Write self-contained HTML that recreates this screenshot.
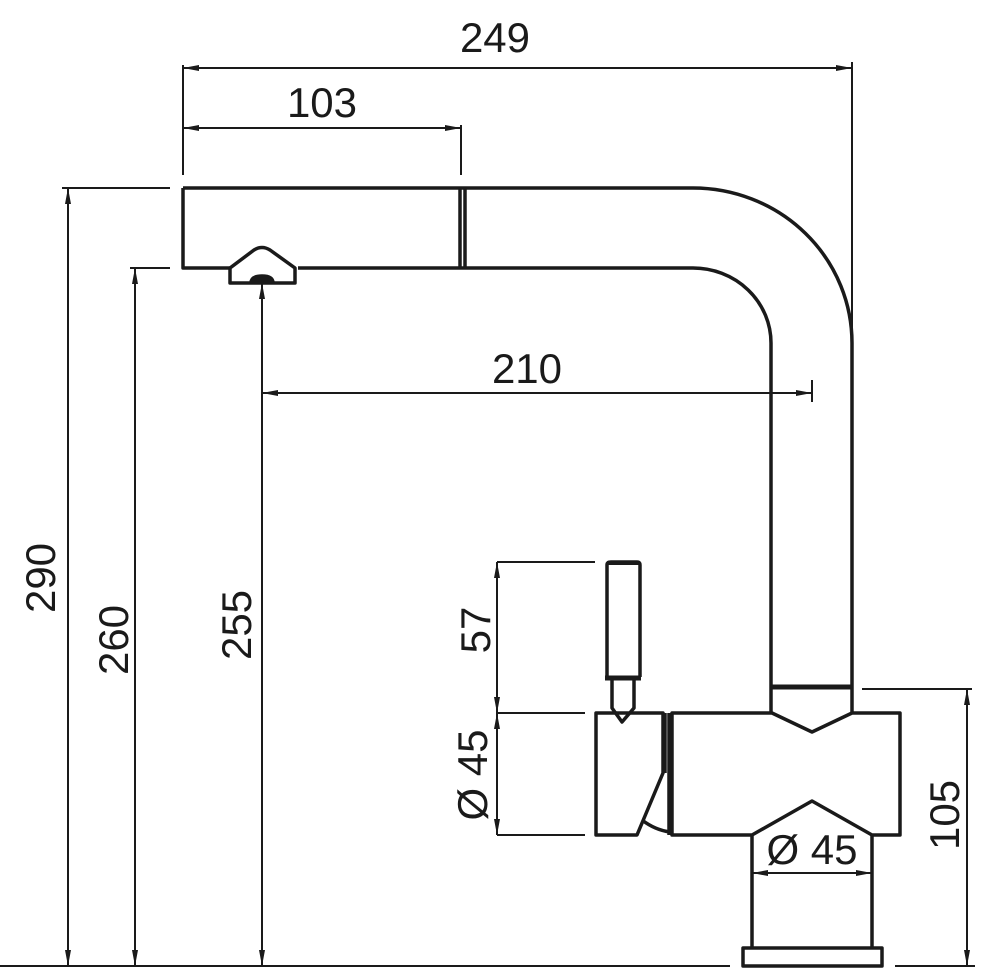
<!DOCTYPE html>
<html><head><style>
html,body{margin:0;padding:0;background:#fff}
svg{display:block}
text{font-family:"Liberation Sans",sans-serif;font-size:42px;fill:#1a1a1a}
</style></head><body>
<svg width="981" height="978" viewBox="0 0 981 978" xmlns="http://www.w3.org/2000/svg">
<defs>
<marker id="a" viewBox="0 0 16 6" refX="16" refY="3" markerWidth="16" markerHeight="6" markerUnits="userSpaceOnUse" orient="auto-start-reverse"><path d="M0,0 L16,3 L0,6 z" fill="#1a1a1a"/></marker>
</defs>
<g stroke="#1a1a1a" fill="none" stroke-width="2">
<line x1="183" y1="65" x2="183" y2="175"/>
<line x1="852" y1="62" x2="852" y2="340"/>
<line x1="461" y1="125" x2="461" y2="175"/>
<line x1="62" y1="188" x2="170" y2="188"/>
<line x1="130" y1="268" x2="170" y2="268"/>
<line x1="812" y1="380" x2="812" y2="402"/>
<line x1="497" y1="562" x2="595" y2="562"/>
<line x1="497" y1="713" x2="585" y2="713"/>
<line x1="497" y1="835" x2="585" y2="835"/>
<line x1="862" y1="689" x2="972" y2="689"/>
<line x1="0" y1="966" x2="730" y2="966"/>
<line x1="895" y1="966" x2="975" y2="966"/>
<line x1="183" y1="68" x2="852" y2="68" marker-start="url(#a)" marker-end="url(#a)"/>
<line x1="183" y1="128" x2="461" y2="128" marker-start="url(#a)" marker-end="url(#a)"/>
<line x1="262" y1="393" x2="812" y2="393" marker-start="url(#a)" marker-end="url(#a)"/>
<line x1="68" y1="188" x2="68" y2="966" marker-start="url(#a)" marker-end="url(#a)"/>
<line x1="135" y1="268" x2="135" y2="966" marker-start="url(#a)" marker-end="url(#a)"/>
<line x1="262" y1="283" x2="262" y2="966" marker-start="url(#a)" marker-end="url(#a)"/>
<line x1="497" y1="562" x2="497" y2="713" marker-start="url(#a)" marker-end="url(#a)"/>
<line x1="497" y1="713" x2="497" y2="835" marker-start="url(#a)" marker-end="url(#a)"/>
<line x1="967" y1="689" x2="967" y2="966" marker-start="url(#a)" marker-end="url(#a)"/>
<line x1="752" y1="873" x2="872" y2="873" marker-start="url(#a)" marker-end="url(#a)"/>
</g>
<g stroke="#1a1a1a" fill="none" stroke-width="3.5" stroke-linejoin="round">
<path d="M183,188 H693 A159,155 0 0 1 852,343 V713"/>
<path d="M298,268 H693 A78,75 0 0 1 771,343 V713"/>
<path d="M183,188 V268 H230"/>
<line x1="460" y1="188" x2="460" y2="268"/>
<line x1="465" y1="188" x2="465" y2="268"/>
<path d="M230,268 L254,250 Q262,245 270,250 L295,268 V283 H230 Z"/>
<path d="M251,283 Q251,276 262,276 Q273,276 273,283" fill="#1a1a1a"/>
<line x1="772" y1="687" x2="852" y2="687" stroke-width="5"/>
<path d="M672,713 H772 L812,732 L852,713 H900 V835 H872 L812,801 L752,835 H672 Z"/>
<path d="M752,835 V948 M872,835 V948"/>
<rect x="743" y="948" width="139" height="18"/>
<path d="M596,713 H663 V773 L637,835 H596 Z"/>
<path d="M665,713 V773 M669,713 V835"/>
<path d="M642,820 Q655,830 670,832"/>
<path d="M607,677 V565 Q607,562 611,562 H637 Q640,562 640,565 V677"/>
<line x1="607" y1="563" x2="640" y2="563" stroke-width="4"/>
<line x1="605" y1="678" x2="641" y2="678" stroke-width="5"/>
<path d="M612,680 V708 L622,722 L634,708 V680"/>
</g>
<text x="495" y="52" text-anchor="middle">249</text>
<text x="322" y="117" text-anchor="middle">103</text>
<text x="527" y="383" text-anchor="middle">210</text>
<text x="812" y="864" text-anchor="middle">Ø 45</text>
<text transform="translate(55,578) rotate(-90)" text-anchor="middle">290</text>
<text transform="translate(128,640) rotate(-90)" text-anchor="middle">260</text>
<text transform="translate(251,625) rotate(-90)" text-anchor="middle">255</text>
<text transform="translate(490,630) rotate(-90)" text-anchor="middle">57</text>
<text transform="translate(487,775) rotate(-90)" text-anchor="middle">Ø 45</text>
<text transform="translate(959,815) rotate(-90)" text-anchor="middle">105</text>
</svg>
</body></html>
